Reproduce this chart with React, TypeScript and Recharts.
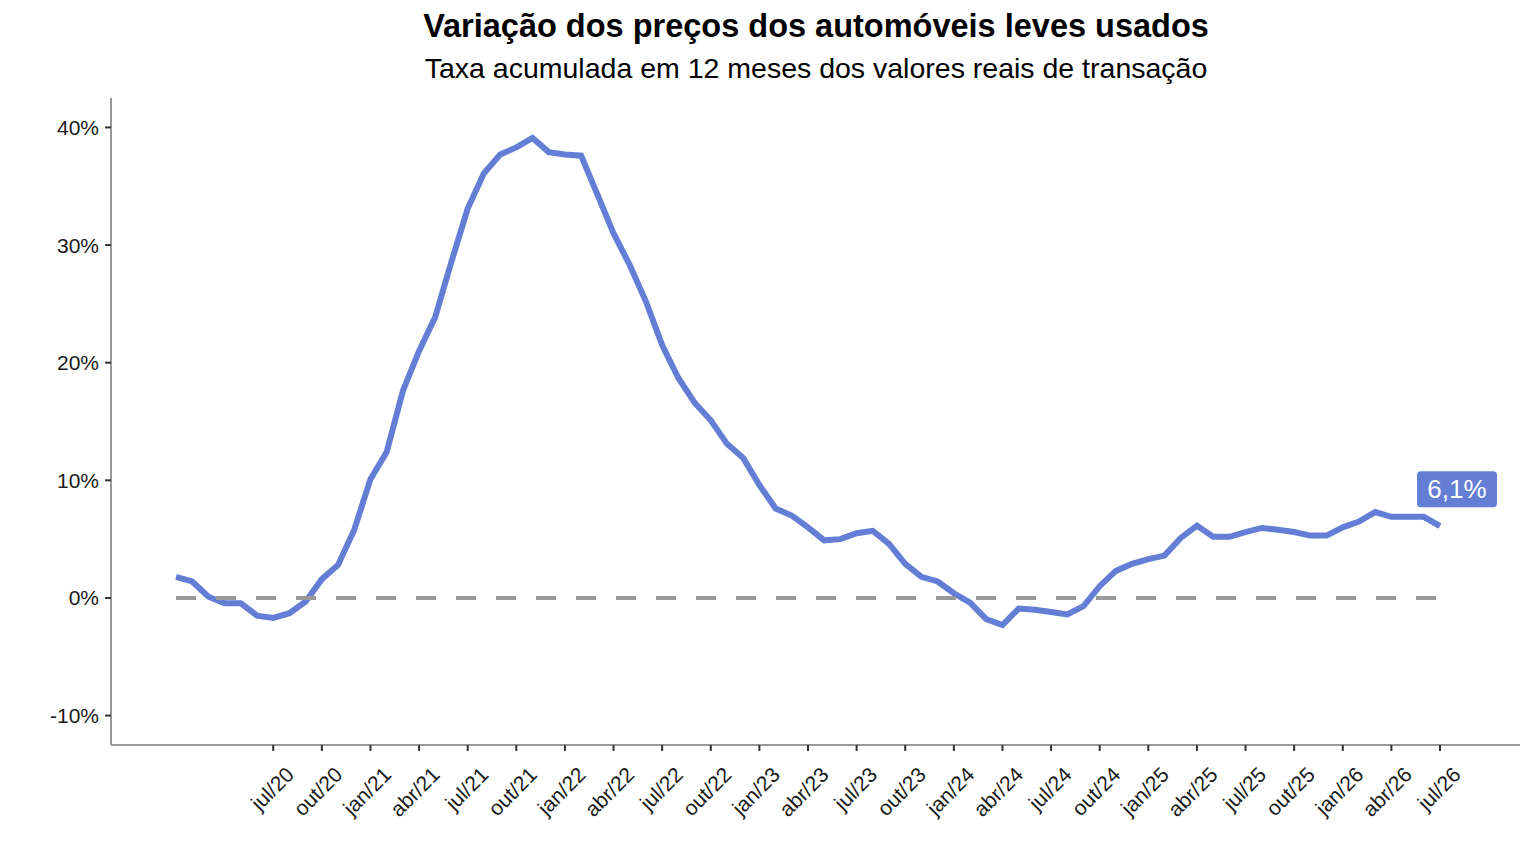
import React from "react";
import { LineChart, Line, XAxis, YAxis, ReferenceLine } from "recharts";

const months = [
  "jan/20", "fev/20", "mar/20", "abr/20", "mai/20", "jun/20", "jul/20", "ago/20", "set/20", "out/20", "nov/20", "dez/20",
  "jan/21", "fev/21", "mar/21", "abr/21", "mai/21", "jun/21", "jul/21", "ago/21", "set/21", "out/21", "nov/21", "dez/21",
  "jan/22", "fev/22", "mar/22", "abr/22", "mai/22", "jun/22", "jul/22", "ago/22", "set/22", "out/22", "nov/22", "dez/22",
  "jan/23", "fev/23", "mar/23", "abr/23", "mai/23", "jun/23", "jul/23", "ago/23", "set/23", "out/23", "nov/23", "dez/23",
  "jan/24", "fev/24", "mar/24", "abr/24", "mai/24", "jun/24", "jul/24", "ago/24", "set/24", "out/24", "nov/24", "dez/24",
  "jan/25", "fev/25", "mar/25", "abr/25", "mai/25", "jun/25", "jul/25", "ago/25", "set/25", "out/25", "nov/25", "dez/25",
  "jan/26", "fev/26", "mar/26", "abr/26", "mai/26", "jun/26", "jul/26",
];

// taxa acumulada em 12 meses (%)
const taxa = [
  1.8, 1.4, 0.1, -0.45, -0.45, -1.5, -1.7, -1.3, -0.3, 1.6, 2.8, 5.8,
  10.1, 12.4, 17.6, 21.0, 23.9, 28.6, 33.1, 36.1, 37.7, 38.3, 39.1, 37.9,
  37.7, 37.6, 34.3, 31.0, 28.3, 25.2, 21.5, 18.7, 16.6, 15.1, 13.1, 11.9,
  9.6, 7.6, 7.0, 6.0, 4.9, 5.0, 5.5, 5.7, 4.6, 2.9, 1.8, 1.4,
  0.4, -0.4, -1.8, -2.3, -0.9, -1.0, -1.2, -1.4, -0.7, 1.0, 2.3, 2.9,
  3.3, 3.6, 5.1, 6.15, 5.2, 5.2, 5.6, 5.95, 5.8, 5.6, 5.3, 5.3,
  6.0, 6.5, 7.3, 6.9, 6.9, 6.9, 6.1,
];

const xTicks = [
  "jul/20", "out/20", "jan/21", "abr/21", "jul/21", "out/21", "jan/22", "abr/22", "jul/22", "out/22",
  "jan/23", "abr/23", "jul/23", "out/23", "jan/24", "abr/24", "jul/24", "out/24", "jan/25", "abr/25",
  "jul/25", "out/25", "jan/26", "abr/26", "jul/26",
];
const yTicks = [-10, 0, 10, 20, 30, 40];

const data = months.map((mes, i) => ({ mes, taxa: taxa[i] }));

const FONT = "'Liberation Sans', Arial, sans-serif";
const BLUE = "#637ed4";

function XTick({ x, y, payload }: any) {
  return (
    <text
      x={x + 22}
      y={y + 25}
      transform={`rotate(-45 ${x + 22} ${y + 25})`}
      textAnchor="end"
      fontFamily={FONT}
      fontSize={21}
      fill="#1a1a1a"
    >
      {payload.value}
    </text>
  );
}

function LastLabel({ cx, cy, index, value }: any) {
  if (index !== months.length - 1) return <g key={index} />;
  const txt = Number(value).toFixed(1).replace(".", ",") + "%";
  return (
    <g key={index}>
      <rect x={cx - 23} y={cy - 55} width={80} height={36} rx={4} fill={BLUE} />
      <text x={cx + 17} y={cy - 28} textAnchor="middle" fontFamily={FONT} fontSize={26} fill="#fff">
        {txt}
      </text>
    </g>
  );
}

export default function App() {
  return (
    <div style={{ position: "absolute", left: 0, top: 0, width: 1536, height: 864, background: "#fff" }}>
      <LineChart width={1536} height={864} data={data} margin={{ top: 98, right: 16, bottom: 19, left: 0 }}>
        <XAxis
          dataKey="mes"
          ticks={xTicks}
          interval={0}
          padding={{ left: 65, right: 80 }}
          height={100}
          axisLine={{ stroke: "#999", strokeWidth: 2 }}
          tickLine={{ stroke: "#333", strokeWidth: 2 }}
          tickSize={6}
          tickMargin={0}
          tick={<XTick />}
        />
        <YAxis
          domain={[-12.5, 42.5]}
          ticks={yTicks}
          allowDataOverflow
          width={111}
          tickFormatter={(v: number) => `${v}%`}
          axisLine={{ stroke: "#999", strokeWidth: 2 }}
          tickLine={{ stroke: "#333", strokeWidth: 2 }}
          tickSize={6}
          tickMargin={6}
          tick={{ fontFamily: FONT, fontSize: 21, fill: "#1a1a1a" }}
        />
        <Line
          type="linear"
          dataKey="taxa"
          stroke={BLUE}
          strokeWidth={6}
          dot={(p: any) => <LastLabel key={p.index} {...p} />}
          activeDot={false}
          isAnimationActive={false}
        />
        <ReferenceLine
          segment={[{ x: "jan/20", y: 0 }, { x: "jul/26", y: 0 }]}
          stroke="#999"
          strokeWidth={4}
          strokeDasharray="20 20"
        />
      </LineChart>
      <svg width={1536} height={100} style={{ position: "absolute", left: 0, top: 0, pointerEvents: "none" }}>
        <text x={816} y={37} textAnchor="middle" fontFamily={FONT} fontWeight="bold" fontSize={32.5} fill="#000">
          Variação dos preços dos automóveis leves usados
        </text>
        <text x={816} y={78} textAnchor="middle" fontFamily={FONT} fontSize={28.5} fill="#000">
          Taxa acumulada em 12 meses dos valores reais de transação
        </text>
      </svg>
    </div>
  );
}
